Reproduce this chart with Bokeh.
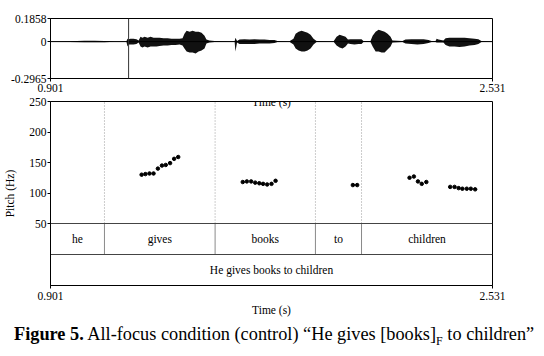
from bokeh.plotting import figure
from bokeh.models import Range1d, FixedTicker, Span, Label, Div
from bokeh.layouts import column
from bokeh.embed import file_html
from bokeh.resources import INLINE
from bokeh.core.properties import value

FONT = "'Liberation Serif', 'Times New Roman', 'DejaVu Serif', serif"
FS = "11.5px"

# ---------------- data ----------------
t_start, t_end = 0.901, 2.531
wave_min, wave_max = -0.2965, 0.1858
cursor_t = 1.189

# waveform envelope (time s, upper, lower amplitude)
wave_t = [0.901, 0.971, 1.026, 1.063, 1.100, 1.137, 1.181, 1.185, 1.189, 1.196,
          1.207, 1.218, 1.226, 1.233, 1.240, 1.248, 1.259, 1.270, 1.281, 1.292,
          1.303, 1.318, 1.333, 1.347, 1.362, 1.377, 1.388, 1.395, 1.403, 1.414,
          1.425, 1.436, 1.447, 1.458, 1.469, 1.476, 1.487, 1.506, 1.580, 1.583,
          1.589, 1.598, 1.616, 1.635, 1.653, 1.672, 1.690, 1.709, 1.727, 1.738,
          1.782, 1.797, 1.805, 1.816, 1.827, 1.838, 1.849, 1.860, 1.871, 1.882,
          1.945, 1.956, 1.967, 1.978, 1.989, 1.998, 2.007, 2.022, 2.037, 2.048,
          2.055, 2.081, 2.089, 2.100, 2.111, 2.122, 2.133, 2.144, 2.155, 2.162,
          2.199, 2.210, 2.232, 2.254, 2.277, 2.295, 2.306, 2.321, 2.325, 2.332,
          2.350, 2.358, 2.372, 2.391, 2.409, 2.428, 2.446, 2.465, 2.479, 2.490,
          2.531]
wave_hi = [0.002, 0.003, 0.006, 0.006, 0.005, 0.002, 0.002, 0.024, 0.020, 0.024,
           0.024, 0.020, 0.008, 0.040, 0.032, 0.040, 0.032, 0.040, 0.032, 0.032,
           0.032, 0.028, 0.028, 0.024, 0.024, 0.024, 0.028, 0.064, 0.088, 0.080,
           0.088, 0.080, 0.080, 0.072, 0.048, 0.016, 0.008, 0.004, 0.002, 0.032,
           0.004, 0.016, 0.020, 0.016, 0.020, 0.016, 0.016, 0.012, 0.012, 0.004,
           0.002, 0.024, 0.064, 0.080, 0.088, 0.080, 0.072, 0.056, 0.024, 0.004,
           0.002, 0.040, 0.056, 0.048, 0.040, 0.016, 0.020, 0.020, 0.020, 0.020,
           0.004, 0.004, 0.048, 0.080, 0.096, 0.088, 0.080, 0.064, 0.040, 0.008,
           0.004, 0.016, 0.020, 0.020, 0.020, 0.012, 0.004, 0.004, 0.024, 0.016,
           0.008, 0.028, 0.032, 0.032, 0.032, 0.032, 0.028, 0.024, 0.020, 0.004,
           0.002]
wave_lo = [-0.002, -0.003, -0.006, -0.005, -0.005, -0.002, -0.002, -0.040, -0.024, -0.024,
           -0.024, -0.020, -0.008, -0.040, -0.048, -0.040, -0.048, -0.040, -0.040, -0.040,
           -0.036, -0.032, -0.032, -0.028, -0.028, -0.024, -0.032, -0.056, -0.080, -0.088,
           -0.088, -0.096, -0.080, -0.072, -0.056, -0.016, -0.008, -0.004, -0.002, -0.080,
           -0.008, -0.020, -0.020, -0.020, -0.020, -0.016, -0.016, -0.016, -0.012, -0.004,
           -0.002, -0.024, -0.056, -0.072, -0.080, -0.080, -0.072, -0.056, -0.024, -0.004,
           -0.002, -0.032, -0.048, -0.056, -0.040, -0.016, -0.020, -0.024, -0.020, -0.020,
           -0.004, -0.004, -0.040, -0.080, -0.080, -0.088, -0.088, -0.064, -0.040, -0.008,
           -0.004, -0.016, -0.020, -0.024, -0.020, -0.012, -0.004, -0.004, -0.008, -0.008,
           -0.008, -0.028, -0.040, -0.040, -0.044, -0.040, -0.032, -0.028, -0.020, -0.004,
           -0.002]

# pitch points
pitch_t = [1.237, 1.251, 1.266, 1.281, 1.297, 1.312, 1.326, 1.342, 1.357, 1.372,
           1.610, 1.625, 1.641, 1.656, 1.671, 1.685, 1.700, 1.716, 1.731,
           2.016, 2.032,
           2.225, 2.241, 2.256, 2.270, 2.287,
           2.375, 2.391, 2.406, 2.420, 2.436, 2.451, 2.467]
pitch_hz = [130, 131, 132, 132, 140, 145, 146, 149, 156, 159,
            118, 119, 119, 117, 116, 115, 114, 115, 120,
            113, 113,
            125, 127, 119, 115, 118,
            110, 110, 108, 107, 107, 107, 106]
pitch_ticks = [50, 100, 150, 200, 250]

# text grid
words = ["he", "gives", "books", "to", "children"]
word_bounds = [0.901, 1.100, 1.508, 1.878, 2.048, 2.531]
sentence = "He gives books to children"

caption_html = ('<b>Figure 5.</b> All-focus condition (control) '
                '\u201cHe gives [books]<sub style="font-size:12px">F</sub> to children\u201d')

# ---------------- layout constants ----------------
FRAME_W = 442
LEFT = 50
RIGHT = 30
PITCH_PX = 122
TIER_PX = 62
pitch_lo, pitch_hi = 50, 250
hz_bottom = pitch_lo - TIER_PX * (pitch_hi - pitch_lo) / PITCH_PX
tier_top = (PITCH_PX + TIER_PX) / (TIER_PX / 2)


def style_axis(ax):
    ax.axis_line_color = "black"
    ax.major_tick_line_color = "black"
    ax.minor_tick_line_color = None
    ax.major_tick_in = 0
    ax.major_tick_out = 3
    ax.major_label_text_font = FONT
    ax.major_label_text_font_size = FS
    ax.major_label_text_color = "black"
    ax.major_label_standoff = 1
    ax.axis_label_text_font = FONT
    ax.axis_label_text_font_size = FS
    ax.axis_label_text_font_style = "normal"
    ax.axis_label_text_color = "black"


# ---------------- waveform panel ----------------
pa = figure(frame_width=FRAME_W, frame_height=60,
            min_border_left=LEFT, min_border_right=RIGHT,
            min_border_top=18, min_border_bottom=18,
            x_range=Range1d(t_start, t_end), y_range=Range1d(wave_min, wave_max),
            output_backend="svg", toolbar_location=None)
pa.grid.visible = False
pa.outline_line_color = "black"
pa.outline_line_alpha = 1
for ax in pa.axis:
    style_axis(ax)
pa.xaxis.ticker = FixedTicker(ticks=[t_start, t_end])
pa.xaxis.major_label_overrides = {t_start: "0.901", t_end: "2.531"}
pa.xaxis.major_label_standoff = 2
pa.yaxis.ticker = FixedTicker(ticks=[wave_min, 0, wave_max])
pa.yaxis.major_label_overrides = {wave_min: "-0.2965", 0: "0", wave_max: "0.1858"}

pa.add_layout(Span(location=0, dimension="width", line_color="black", line_width=1))
pa.varea(x=wave_t, y1=wave_lo, y2=wave_hi, fill_color="#111111")
pa.add_layout(Span(location=cursor_t, dimension="height", line_color="#333333", line_width=1))

# ---------------- pitch + textgrid panel ----------------
pb = figure(frame_width=FRAME_W, frame_height=PITCH_PX + TIER_PX,
            min_border_left=LEFT, min_border_right=RIGHT,
            min_border_top=5, min_border_bottom=10,
            x_range=Range1d(t_start, t_end), y_range=Range1d(hz_bottom, pitch_hi),
            output_backend="svg", toolbar_location=None)
pb.extra_y_ranges = {"tier": Range1d(0, tier_top)}
pb.grid.visible = False
pb.outline_line_color = "black"
pb.outline_line_alpha = 1
for ax in pb.axis:
    style_axis(ax)
pb.xaxis.ticker = FixedTicker(ticks=[t_start, t_end])
pb.xaxis.major_label_overrides = {t_start: "0.901", t_end: "2.531"}
pb.xaxis.major_label_standoff = 3
pb.xaxis.axis_label = "Time (s)"
pb.xaxis.axis_label_standoff = 1
pb.yaxis.ticker = FixedTicker(ticks=pitch_ticks)
pb.yaxis.axis_label = "Pitch (Hz)"
pb.yaxis.axis_label_standoff = 10

inner = word_bounds[1:-1]
pb.segment(x0=inner, y0=[pitch_lo] * len(inner), x1=inner, y1=[pitch_hi] * len(inner),
           line_color="#9a9a9a", line_width=1, line_dash="1 2")
pb.segment(x0=inner, y0=[1] * len(inner), x1=inner, y1=[2] * len(inner),
           line_color="#8a8a8a", line_width=1, y_range_name="tier")
pb.segment(x0=[t_start, t_start], y0=[1, 2], x1=[t_end, t_end], y1=[1, 2],
           line_color="#444444", line_width=1, y_range_name="tier")

pb.scatter(x=pitch_t, y=pitch_hz, size=3.5, marker="circle",
           fill_color="black", line_color="black")

centers = [(word_bounds[i] + word_bounds[i + 1]) / 2 for i in range(len(words))]
pb.text(x=centers, y=[1.5] * len(words), text=words, y_range_name="tier",
        text_font=value(FONT), text_font_size=value(FS), text_color="black",
        text_align="center", text_baseline="middle")
pb.text(x=[(t_start + t_end) / 2], y=[0.5], text=[sentence], y_range_name="tier",
        text_font=value(FONT), text_font_size=value(FS), text_color="black",
        text_align="center", text_baseline="middle")

# x-axis label of the waveform panel (overlaps this panel's top edge, as in Praat)
pb.add_layout(Label(x=(t_start + t_end) / 2, y=pitch_hi, text="Time (s)",
                    text_font=FONT, text_font_size=FS, text_color="black",
                    text_align="center", text_baseline="middle"))

cap = Div(text=caption_html, width=540, height=30,
          styles={"font-family": FONT, "font-size": "18.3px", "color": "black",
                  "white-space": "nowrap", "padding-left": "9px",
                  "line-height": "22px"})

layout = column(pa, pb, cap, spacing=0)
open("out.html", "w").write(file_html(layout, INLINE))
